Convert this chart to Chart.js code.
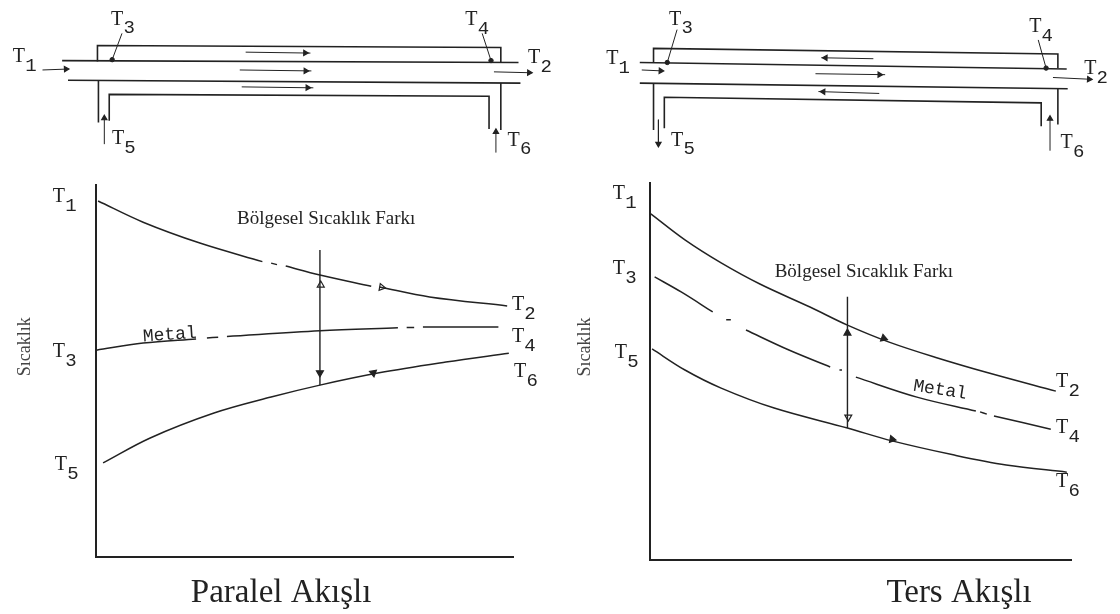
<!DOCTYPE html>
<html>
<head>
<meta charset="utf-8">
<script src="https://cdn.jsdelivr.net/npm/chart.js@4"></script>
<style>
  html, body { margin: 0; padding: 0; background: #fff; }
  #page { position: relative; width: 1120px; height: 614px; overflow: hidden; }
  canvas { position: absolute; filter: blur(0.45px); }
</style>
</head>
<body>
<div id="page">
  <canvas id="parallelPipe" width="560" height="170" style="left:0;top:0"></canvas>
  <canvas id="counterPipe" width="560" height="170" style="left:560px;top:0"></canvas>
  <canvas id="parallelPlot" width="560" height="444" style="left:0;top:170px"></canvas>
  <canvas id="counterPlot" width="560" height="444" style="left:560px;top:170px"></canvas>
</div>
<script>
/* ---- temperature curves, x = position along the exchanger, y = temperature (both 0-100) ---- */
const parHotX   = [0.5, 11.3, 24.9, 39.9, null, 42, 43.4, null, 45.5, 53.7, 66, null, 68, 80, 98.6];
const parHotY   = [95.7, 90, 84.4, 79.4, null, 79, 78.6, null, 78.2, 75.8, 72.8, null, 72.6, 69.9, 67.5];
const parMetalX = [0.1, 11.3, 24, null, 26.6, 29.3, null, 31.4, 53.7, 72.4, null, 74.5, 76.3, null, 78.4, 96.5];
const parMetalY = [55.6, 57.5, 58.6, null, 58.9, 59.1, null, 59.3, 60.8, 61.6, null, 61.7, 61.7, null, 61.8, 61.8];
const parColdX  = [1.7, 13, 28.3, 42, 53.7, 67.9, 83.9, 99];
const parColdY  = [25.3, 32, 38.7, 43, 46.2, 49.5, 52.4, 54.8];

const ctrHotX   = [0.2, 8.3, 16.9, 26.1, 38, 46.9, 56.8, 67.7, 80.5, 96.4];
const ctrHotY   = [91.8, 84.9, 78.8, 73.2, 67.1, 62.3, 57.8, 53.8, 49.6, 44.8];
const ctrMetalX = [1.1, 7.4, 14.9, null, 18.1, 19.2, null, 22.8, 33, 42.8, null, 45, 45.6, null, 48.9, 63.4, 77.4, null, 78.4, 80, null, 81.7, 95.2];
const ctrMetalY = [75.1, 71.1, 65.8, null, 63.7, 63.7, null, 61, 55.7, 51.2, null, 50.4, 50.4, null, 48.5, 43.2, 39.5, null, 39.3, 38.7, null, 38.2, 34.7];
const ctrColdX  = [0.5, 8.3, 16.9, 29.5, 46.9, 57.5, 72, 84.6, 99];
const ctrColdY  = [56, 50.4, 45.6, 40.3, 35, 31.6, 27.9, 25.2, 23.3];

/* local temperature difference arrows */
const parDiffX = [53.7, 53.7];
const parDiffY = [82.5, 46.2];
const ctrDiffX = [46.9, 46.9];
const ctrDiffY = [69.8, 35];

/* arrow heads on the plots: x, y, direction in degrees, filled */
const parHeads = [[53.9, 73.1, 0, false], [53.7, 49.5, 180, true], [68.5, 72.5, 100, false], [66.5, 49.5, 170, true]];
const ctrHeads = [[46.9, 60.2, 0, true], [47.1, 37.9, 180, false], [55.5, 58.8, 110, true], [57.5, 32, 100, true]];

/* ---- pipe sketches, drawing units along and across the sketch ---- */
const parPipes = [
  [[94, 60], [94, 43], [505, 45], [505, 61]],
  [[58, 59], [523, 61]],
  [[64, 80], [525, 83]],
  [[95, 80], [95, 125]],
  [[505, 83], [505, 133]],
  [[106, 123], [106, 95], [493, 97], [493, 132]]
];
const parFlows = [
  [[245, 50], [311, 51]],
  [[239, 69], [312, 70]],
  [[241, 87], [314, 88]],
  [[498, 71], [537, 72]],
  [[38, 69], [64, 68]],
  [[101, 148], [101, 118]],
  [[500, 157], [500, 133]]
];
const parLeaders = [[[119, 30], [109, 58]], [[486, 30], [495, 59]]];
const parDots = [[109, 58], [495, 59]];

const ctrPipes = [
  [[90, 61], [90, 46], [502, 52], [502, 67]],
  [[76, 61], [511, 68]],
  [[76, 83], [512, 89]],
  [[90, 83], [90, 133]],
  [[502, 89], [502, 127]],
  [[101, 131], [101, 98], [485, 104], [485, 129]]
];
const ctrFlows = [
  [[314, 57], [261, 56]],
  [[255, 73], [326, 74]],
  [[320, 94], [258, 92]],
  [[497, 77], [537, 79]],
  [[78, 69], [99, 70]],
  [[95, 122], [95, 150]],
  [[494, 155], [494, 118]]
];
const ctrLeaders = [[[114, 26], [104, 61]], [[482, 37], [490, 67]]];
const ctrDots = [[104, 61], [490, 67]];

/* ---- labels ---- */
const parPipeLabels = [['T', '1', 14, 55], ['T', '3', 114, 15], ['T', '4', 475, 16], ['T', '2', 539, 56], ['T', '5', 115, 142], ['T', '6', 518, 144]];
const ctrPipeLabels = [['T', '1', 48, 57], ['T', '3', 112, 15], ['T', '4', 479, 23], ['T', '2', 535, 68], ['T', '5', 114, 144], ['T', '6', 511, 147]];
const parPlotLabels = [['T', '1', -8.9, 96.8], ['T', '3', -8.9, 55.1], ['T', '5', -8.4, 24.7], ['T', '2', 101.2, 67.7], ['T', '4', 101.2, 59.1], ['T', '6', 101.7, 49.7]];
const ctrPlotLabels = [['T', '1', -7.4, 97.1], ['T', '3', -7.4, 77.2], ['T', '5', -6.9, 54.9], ['T', '2', 97.9, 47.2], ['T', '4', 97.9, 35], ['T', '6', 97.9, 20.7]];

const inkColor = '#222';
const serif = '"Liberation Serif", serif';
const mono = '"Liberation Mono", monospace';

function toPoints(xs, ys) {
  return xs.map((x, i) => ({ x: x === null ? NaN : x, y: ys[i] === null ? NaN : ys[i] }));
}

function lineSet(points, width) {
  return { data: points, showLine: true, borderColor: inkColor, borderWidth: width, pointRadius: 0, clip: false };
}

function curveSet(xs, ys) {
  const set = lineSet(toPoints(xs, ys), 1.5);
  set.tension = 0.35;
  return set;
}

function headSet(heads, size) {
  return {
    data: heads.map(h => ({ x: h[0], y: h[1] })),
    showLine: false,
    pointStyle: 'triangle',
    pointRadius: size,
    pointRotation: heads.map(h => h[2]),
    borderColor: inkColor,
    borderWidth: 1.2,
    pointBackgroundColor: heads.map(h => h[3] ? inkColor : '#fff'),
    clip: false
  };
}

/* draws the T-labels and captions through the chart's own scales */
function textPlugin(tLabels, notes) {
  return {
    id: 'diagramText',
    afterDatasetsDraw(chart) {
      const ctx = chart.ctx;
      const sx = chart.scales.x, sy = chart.scales.y;
      ctx.save();
      ctx.textAlign = 'center';
      ctx.textBaseline = 'middle';
      ctx.fillStyle = inkColor;
      tLabels.forEach(l => {
        const px = sx.getPixelForValue(l[2]), py = sy.getPixelForValue(l[3]);
        ctx.font = '20px ' + serif;
        ctx.fillText(l[0], px, py);
        ctx.font = '19px ' + mono;
        ctx.fillText(l[1], px + 12, py + 9);
      });
      notes.forEach(n => {
        ctx.save();
        ctx.translate(sx.getPixelForValue(n.x), sy.getPixelForValue(n.y));
        ctx.rotate((n.angle || 0) * Math.PI / 180);
        ctx.font = n.font;
        ctx.fillStyle = n.color || inkColor;
        ctx.fillText(n.text, 0, 0);
        ctx.restore();
      });
      ctx.restore();
    }
  };
}

function baseOptions(xScale, yScale, padding) {
  return {
    responsive: false,
    animation: false,
    layout: { padding: padding },
    plugins: { legend: { display: false }, tooltip: { enabled: false } },
    scales: { x: xScale, y: yScale }
  };
}

function makePipe(id, pipes, flows, leaders, dots, labels) {
  const heads = flows.map(f => {
    const dx = f[1][0] - f[0][0], dy = f[1][1] - f[0][1];
    return [f[1][0] - dx * 0.08, f[1][1] - dy * 0.08, Math.atan2(dy, dx) * 180 / Math.PI + 90, true];
  });
  const datasets = [];
  pipes.forEach(p => datasets.push(lineSet(p.map(c => ({ x: c[0], y: c[1] })), 1.6)));
  flows.forEach(p => datasets.push(lineSet(p.map(c => ({ x: c[0], y: c[1] })), 1)));
  leaders.forEach(p => datasets.push(lineSet(p.map(c => ({ x: c[0], y: c[1] })), 1)));
  datasets.push(headSet(heads, 3));
  datasets.push({ data: dots.map(c => ({ x: c[0], y: c[1] })), showLine: false, pointRadius: 2.2, pointBackgroundColor: inkColor, borderColor: inkColor, clip: false });
  new Chart(document.getElementById(id), {
    type: 'scatter',
    data: { datasets: datasets },
    options: baseOptions(
      { type: 'linear', min: 0, max: 560, display: false },
      { type: 'linear', min: 0, max: 170, reverse: true, display: false },
      0
    ),
    plugins: [textPlugin(labels, [])]
  });
}

function makePlot(id, curves, diffX, diffY, heads, labels, notes, padding) {
  const axis = {
    type: 'linear', min: 0, max: 100,
    grid: { display: false, drawTicks: false },
    ticks: { display: false },
    border: { color: inkColor, width: 2 }
  };
  const datasets = curves.map(c => curveSet(c[0], c[1]));
  datasets.push(lineSet(toPoints(diffX, diffY), 1.4));
  datasets.push(headSet(heads, 4));
  new Chart(document.getElementById(id), {
    type: 'scatter',
    data: { datasets: datasets },
    options: baseOptions(axis, Object.assign({}, axis), padding),
    plugins: [textPlugin(labels, notes)]
  });
}

makePipe('parallelPipe', parPipes, parFlows, parLeaders, parDots, parPipeLabels);
makePipe('counterPipe', ctrPipes, ctrFlows, ctrLeaders, ctrDots, ctrPipeLabels);

makePlot('parallelPlot',
  [[parHotX, parHotY], [parMetalX, parMetalY], [parColdX, parColdY]],
  parDiffX, parDiffY, parHeads, parPlotLabels,
  [
    { text: 'Bölgesel Sıcaklık Farkı', x: 55.2, y: 90.9, font: '19px ' + serif },
    { text: 'Metal', x: 17.7, y: 59.7, angle: -4, font: '18px ' + mono },
    { text: 'Sıcaklık', x: -17, y: 56.5, angle: -90, font: '18px ' + serif, color: '#444' },
    { text: 'Paralel Akışlı', x: 44.4, y: -9.7, font: '33px ' + serif }
  ],
  { left: 96, right: 47, top: 15, bottom: 57 });

makePlot('counterPlot',
  [[ctrHotX, ctrHotY], [ctrMetalX, ctrMetalY], [ctrColdX, ctrColdY]],
  ctrDiffX, ctrDiffY, ctrHeads, ctrPlotLabels,
  [
    { text: 'Bölgesel Sıcaklık Farkı', x: 50.8, y: 76.4, font: '19px ' + serif },
    { text: 'Metal', x: 68.9, y: 45.1, angle: 9, font: '18px ' + mono },
    { text: 'Sıcaklık', x: -15.4, y: 56.5, angle: -90, font: '18px ' + serif, color: '#444' },
    { text: 'Ters Akışlı', x: 73.4, y: -8.8, font: '33px ' + serif }
  ],
  { left: 90, right: 49, top: 13, bottom: 54 });
</script>
</body>
</html>
